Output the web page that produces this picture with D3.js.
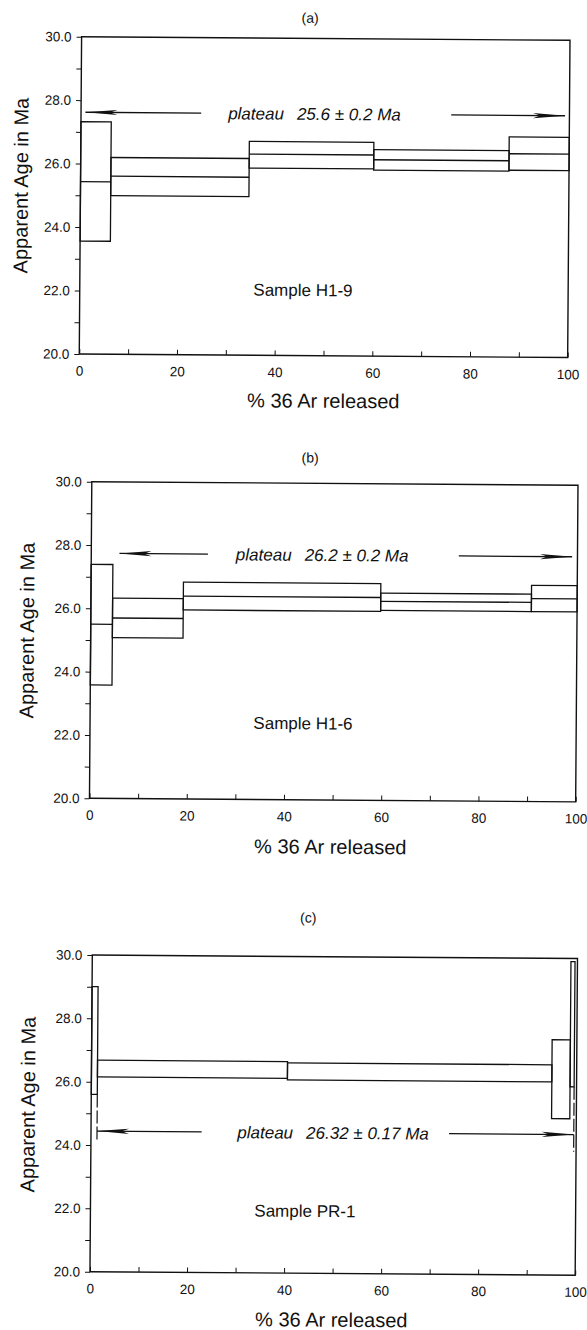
<!DOCTYPE html>
<html>
<head>
<meta charset="utf-8">
<script src="https://cdn.jsdelivr.net/npm/d3@7"></script>
<style>
  body { margin: 0; background: #fff; }
  svg { display: block; }
  text { font-family: "Liberation Sans", Arial, sans-serif; fill: #111; }
</style>
</head>
<body>
<script>
// panel labels
var panelTags = ["(a)", "(b)", "(c)"];
var sampleNames = ["Sample H1-9", "Sample H1-6", "Sample PR-1"];
var plateauValues = ["25.6 \u00b1 0.2 Ma", "26.2 \u00b1 0.2 Ma", "26.32 \u00b1 0.17 Ma"];
var xTitle = "% 36 Ar released";
var yTitle = "Apparent Age in Ma";

// age spectrum steps, % 36Ar released (start / end) and age (low / mid / high, Ma)
var stepStartA = [0, 6.2, 34.5, 60, 87.7];
var stepEndA = [6.2, 34.5, 60, 87.7, 100];
var ageLoA = [23.56, 25.0, 25.90, 25.86, 25.89];
var ageMidA = [25.43, 25.61, 26.34, 26.19, 26.41];
var ageHiA = [27.32, 26.2, 26.74, 26.51, 26.94];

var stepStartB = [0, 4.46, 19.0, 59.6, 90.6];
var stepEndB = [4.46, 19.0, 59.6, 90.6, 100];
var ageLoB = [23.58, 25.08, 25.97, 26.0, 26.0];
var ageMidB = [25.50, 25.70, 26.41, 26.29, 26.41];
var ageHiB = [27.39, 26.33, 26.85, 26.55, 26.83];

var stepStartC = [0, 1.24, 40.4, 94.9, 98.66];
var stepEndC = [1.24, 40.4, 94.9, 98.66, 99.5];
var ageLoC = [25.6, 26.15, 26.10, 24.94, 25.95];
var ageMidC = [null, null, null, null, null];
var ageHiC = [29.0, 26.68, 26.64, 27.43, 29.9];

// plateau arrows: age level and x extent of the left / right arrow
var plateauAge = [27.62, 27.74, 24.44];
var arrowLeft = [[0.9, 24.6], [5.8, 24.0], [1.24, 22.8]];
var arrowRight = [[75.8, 99.1], [75.6, 98.9], [73.8, 99.5]];
var labelPos = [[47.8, 45.7, 22.07], [47.5, 43.8, 22.42], [49.9, 44.2, 21.97]]; // plateau x, sample x, sample age

// plateau end brackets in (c)
var bracketX = [1.24, 99.5];
var bracketTop = [25.6, 25.95];
var bracketBottom = [24.14, 23.9];

var ageTicks = d3.range(20, 31, 1);
var pctTicks = d3.range(0, 101, 10);

var steps = [
    {start: stepStartA, end: stepEndA, lo: ageLoA, mid: ageMidA, hi: ageHiA},
    {start: stepStartB, end: stepEndB, lo: ageLoB, mid: ageMidB, hi: ageHiB},
    {start: stepStartC, end: stepEndC, lo: ageLoC, mid: ageMidC, hi: ageHiC}
];

// frame of each panel in page pixels
var frames = [
    {left: 81.6, right: 570, top: 36.7, bottom: 354, tagX: 310, tagY: 21, xtX: 326, xtY: 406, ytX: 29, ytY: 186},
    {left: 91.8, right: 578, top: 481.7, bottom: 798.3, tagX: 310, tagY: 461, xtX: 333, xtY: 852, ytX: 35, ytY: 631},
    {left: 92.3, right: 577.5, top: 955, bottom: 1271.7, tagX: 308, tagY: 921, xtX: 334, xtY: 1325, ytX: 36, ytY: 1105}
];

var svg = d3.select("body").append("svg")
    .attr("width", 587)
    .attr("height", 1330);

var arrowHead = function(tipX, y, dir){
    var L = 32, h = 2.6;
    return "M" + tipX + "," + y +
        "L" + (tipX + dir * L) + "," + (y - h) +
        "L" + (tipX + dir * L * 0.78) + "," + y +
        "L" + (tipX + dir * L) + "," + (y + h) + "Z";
};

var drawPanel = function(i){
    var f = frames[i];
    var s = steps[i];
    var x = d3.scaleLinear().domain([0, 100]).range([f.left, f.right]);
    var y = d3.scaleLinear().domain([20, 30]).range([f.bottom, f.top]);

    var g = svg.append("g")
        .attr("transform", "rotate(0.42," + f.left + "," + f.top + ")");

    g.append("text")
        .attr("x", f.tagX)
        .attr("y", f.tagY)
        .attr("text-anchor", "middle")
        .attr("font-size", 14)
        .text(panelTags[i]);

    // steps
    var data = s.start.map(function(d, k){
        return {x0: d, x1: s.end[k], lo: s.lo[k], mid: s.mid[k], hi: s.hi[k]};
    });
    g.selectAll("rect.step")
        .data(data)
        .enter()
        .append("rect")
        .attr("class", "step")
        .attr("x", function(d){return x(d.x0);})
        .attr("width", function(d){return x(d.x1) - x(d.x0);})
        .attr("y", function(d){return y(d.hi);})
        .attr("height", function(d){return y(d.lo) - y(d.hi);})
        .attr("fill", "none")
        .attr("stroke", "#111")
        .attr("stroke-width", 1.3);
    g.selectAll("line.mid")
        .data(data.filter(function(d){return d.mid !== null;}))
        .enter()
        .append("line")
        .attr("class", "mid")
        .attr("x1", function(d){return x(d.x0);})
        .attr("x2", function(d){return x(d.x1);})
        .attr("y1", function(d){return y(d.mid);})
        .attr("y2", function(d){return y(d.mid);})
        .attr("stroke", "#111")
        .attr("stroke-width", 1.3);

    // frame
    g.append("rect")
        .attr("x", f.left)
        .attr("y", f.top)
        .attr("width", f.right - f.left)
        .attr("height", f.bottom - f.top)
        .attr("fill", "none")
        .attr("stroke", "#111")
        .attr("stroke-width", 1.4);

    // axes
    var yAxis = d3.axisLeft(y)
        .tickValues(ageTicks)
        .tickSize(5)
        .tickSizeOuter(0)
        .tickPadding(5)
        .tickFormat(function(d){return d % 2 === 0 ? d3.format(".1f")(d) : "";});
    var ya = g.append("g")
        .attr("transform", "translate(" + f.left + ",0)")
        .call(yAxis);

    var xAxis = d3.axisBottom(x)
        .tickValues(pctTicks)
        .tickSize(-5)
        .tickSizeOuter(0)
        .tickPadding(12)
        .tickFormat(function(d){return d % 20 === 0 ? d : "";});
    var xa = g.append("g")
        .attr("transform", "translate(0," + f.bottom + ")")
        .call(xAxis);

    [ya, xa].forEach(function(a){
        a.select(".domain").remove();
        a.selectAll("line").attr("stroke", "#111").attr("stroke-width", 1);
        a.selectAll("text")
            .attr("font-size", 13.5)
            .attr("font-family", "Liberation Sans, Arial, sans-serif")
            .attr("fill", "#111");
    });

    // plateau arrows
    var py = y(plateauAge[i]);
    g.append("line")
        .attr("x1", x(arrowLeft[i][0])).attr("x2", x(arrowLeft[i][1]))
        .attr("y1", py).attr("y2", py)
        .attr("stroke", "#111").attr("stroke-width", 1.3);
    g.append("path")
        .attr("d", arrowHead(x(arrowLeft[i][0]), py, 1))
        .attr("fill", "#111");
    g.append("line")
        .attr("x1", x(arrowRight[i][0])).attr("x2", x(arrowRight[i][1]))
        .attr("y1", py).attr("y2", py)
        .attr("stroke", "#111").attr("stroke-width", 1.3);
    g.append("path")
        .attr("d", arrowHead(x(arrowRight[i][1]), py, -1))
        .attr("fill", "#111");

    var pt = g.append("text")
        .attr("x", x(labelPos[i][0]))
        .attr("y", py + 6)
        .attr("text-anchor", "middle")
        .attr("font-size", 17)
        .attr("font-style", "italic");
    pt.append("tspan").text("plateau");
    pt.append("tspan").attr("dx", 13).text(plateauValues[i]);

    g.append("text")
        .attr("x", x(labelPos[i][1]))
        .attr("y", y(labelPos[i][2]) + 6)
        .attr("text-anchor", "middle")
        .attr("font-size", 17)
        .text(sampleNames[i]);

    if (i === 2){
        g.selectAll("line.bracket")
            .data(bracketX)
            .enter()
            .append("line")
            .attr("class", "bracket")
            .attr("x1", function(d){return x(d);})
            .attr("x2", function(d){return x(d);})
            .attr("y1", function(d, k){return y(bracketTop[k]);})
            .attr("y2", function(d, k){return y(bracketBottom[k]);})
            .attr("stroke", "#111")
            .attr("stroke-width", 1.2)
            .attr("stroke-dasharray", "13,3");
    }

    // axis titles
    g.append("text")
        .attr("x", f.xtX)
        .attr("y", f.xtY)
        .attr("text-anchor", "middle")
        .attr("font-size", 20)
        .text(xTitle);
    g.append("text")
        .attr("transform", "translate(" + f.ytX + "," + f.ytY + ") rotate(-90)")
        .attr("text-anchor", "middle")
        .attr("font-size", 20)
        .text(yTitle);
};

for (var i = 0; i < frames.length; i++){
    drawPanel(i);
}
</script>
</body>
</html>
